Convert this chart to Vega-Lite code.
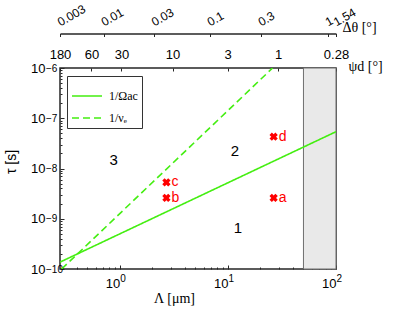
{
  "$schema": "https://vega.github.io/schema/vega-lite/v6.json",
  "width": 276,
  "height": 201,
  "autosize": "none",
  "padding": {"left": 60, "top": 68, "right": 69, "bottom": 42},
  "background": "white",
  "config": {
    "font": "Liberation Sans",
    "view": {"stroke": "#262626", "strokeWidth": 1.5},
    "axis": {
      "labelFont": "Liberation Sans",
      "labelFontSize": 13,
      "labelColor": "#000",
      "domainColor": "#262626",
      "tickColor": "#262626",
      "grid": false,
      "labelFlush": false,
      "labelOverlap": false,
      "labelBound": false,
      "titleFontWeight": "normal",
      "titleColor": "#000",
      "zindex": 1
    }
  },
  "datasets": {
    "region": [{"lo": 50, "hi": 100}],
    "lines": [
      {"series": "1/Ωac", "L": 0.28, "tau": 1.37e-10},
      {"series": "1/Ωac", "L": 100, "tau": 5.4e-8},
      {"series": "1/νₑ", "L": 0.29, "tau": 1e-10},
      {"series": "1/νₑ", "L": 25.9, "tau": 1e-6}
    ],
    "pts": [
      {"id": "a", "L": 26.5, "tau": 2.6e-9},
      {"id": "b", "L": 2.7, "tau": 2.6e-9},
      {"id": "c", "L": 2.7, "tau": 5.3e-9},
      {"id": "d", "L": 26.5, "tau": 4.3e-8}
    ],
    "zones": [
      {"n": "1", "L": 12.4, "tau": 6.4e-10},
      {"n": "2", "L": 11.6, "tau": 2.28e-8},
      {"n": "3", "L": 0.88, "tau": 1.51e-8}
    ]
  },
  "resolve": {"axis": {"x": "independent", "y": "independent"}},
  "layer": [
    {
      "data": {"name": "region"},
      "mark": {"type": "rect", "fill": "#e9e9e9", "stroke": "#6e6e6e", "strokeWidth": 1},
      "encoding": {
        "x": {
          "field": "lo", "type": "quantitative",
          "scale": {"type": "log", "domain": [0.28, 100], "nice": false},
          "axis": {
            "orient": "bottom", "values": [1, 10, 100], "labelExpr": "'10'",
            "ticks": false, "domain": false, "labelAlign": "right", "labelDx": 6,
            "labelBaseline": "middle", "labelPadding": 14.8,
            "title": "Λ [μm]", "titleFont": "Liberation Serif", "titleFontSize": 14,
            "titleX": 114, "titleY": 33, "titleAlign": "center", "titleBaseline": "alphabetic"
          }
        },
        "x2": {"field": "hi"},
        "y": {"datum": 1e-6, "type": "quantitative", "scale": {"type": "log", "domain": [1e-10, 1e-6], "nice": false}, "axis": null},
        "y2": {"datum": 1e-10}
      }
    },
    {
      "data": {"name": "lines"},
      "mark": {"type": "line", "color": "#44ee11", "strokeWidth": 1.6, "clip": true},
      "encoding": {
        "x": {
          "field": "L", "type": "quantitative",
          "axis": {
            "orient": "bottom", "values": [1, 10, 100],
            "labelExpr": "datum.value < 5 ? '0' : datum.value < 50 ? '1' : '2'",
            "tickSize": -4, "domain": false, "labelAlign": "left", "labelDx": 7,
            "labelFontSize": 10, "labelBaseline": "middle", "labelPadding": 13.3, "title": null
          }
        },
        "y": {
          "field": "tau", "type": "quantitative",
          "axis": {
            "orient": "left", "values": [1e-10, 1e-9, 1e-8, 1e-7, 1e-6], "labelExpr": "'10'",
            "ticks": false, "domain": false, "labelAlign": "right", "labelPadding": 15,
            "labelBaseline": "middle", "labelDy": 4.5,
            "title": "τ [s]", "titleFont": "Liberation Sans", "titleFontSize": 14,
            "titleX": -49, "titleY": 93.5, "titleAngle": -90, "titleAlign": "center", "titleBaseline": "middle"
          }
        },
        "strokeDash": {
          "field": "series", "type": "nominal",
          "scale": {"domain": ["1/Ωac", "1/νₑ"], "range": [[1, 0], [7, 4]]},
          "legend": {
            "orient": "none", "legendX": 7, "legendY": 8, "title": null,
            "fillColor": "white", "strokeColor": "#333", "padding": 4,
            "symbolType": "stroke", "symbolSize": 900, "symbolStrokeWidth": 1.6,
            "symbolStrokeColor": "#44ee11", "symbolOpacity": 1,
            "labelFont": "Liberation Serif", "labelFontSize": 12, "labelColor": "#000",
            "labelOffset": 6, "rowPadding": -10
          }
        }
      }
    },
    {
      "data": {"name": "pts"},
      "mark": {"type": "point", "shape": "cross", "angle": 45, "filled": true, "color": "#ff0000", "size": 70, "opacity": 1},
      "encoding": {
        "x": {
          "field": "L", "type": "quantitative",
          "axis": {
            "orient": "bottom",
            "values": [0.3, 0.4, 0.5, 0.6, 0.7, 0.8, 0.9, 2, 3, 4, 5, 6, 7, 8, 9, 20, 30, 40, 50, 60, 70, 80, 90],
            "labels": false, "tickSize": -2, "domain": false, "title": null
          }
        },
        "y": {
          "field": "tau", "type": "quantitative",
          "axis": {
            "orient": "left", "values": [1e-10, 1e-9, 1e-8, 1e-7, 1e-6],
            "labelExpr": "datum.value < 5e-10 ? '−10' : datum.value < 5e-9 ? '−9' : datum.value < 5e-8 ? '−8' : datum.value < 5e-7 ? '−7' : '−6'",
            "tickSize": -4, "domain": false, "labelAlign": "left", "labelPadding": 18.5,
            "labelFontSize": 10, "labelBaseline": "middle", "labelDy": -2, "title": null
          }
        }
      }
    },
    {
      "data": {"name": "pts"},
      "mark": {"type": "text", "align": "left", "baseline": "middle", "dx": 5, "color": "#ff0000", "fontSize": 14, "font": "Liberation Sans"},
      "encoding": {
        "x": {
          "field": "L", "type": "quantitative",
          "axis": {
            "orient": "top", "values": [0.28, 0.547, 1.037, 3.076, 9.94, 29.2, 100],
            "labelExpr": "datum.value < 0.3 ? '180' : datum.value < 0.6 ? '60' : datum.value < 2 ? '30' : datum.value < 5 ? '10' : datum.value < 15 ? '3' : datum.value < 50 ? '1' : '0.28'",
            "tickSize": -3, "domain": false, "labelBaseline": "alphabetic", "labelPadding": 13,
            "title": "ψd [°]", "titleFont": "Liberation Serif", "titleFontSize": 14,
            "titleX": 288, "titleY": -2, "titleAlign": "left", "titleBaseline": "middle"
          }
        },
        "y": {
          "field": "tau", "type": "quantitative",
          "axis": {
            "orient": "left",
            "values": [2e-10, 3e-10, 4e-10, 5e-10, 6e-10, 7e-10, 8e-10, 9e-10, 2e-9, 3e-9, 4e-9, 5e-9, 6e-9, 7e-9, 8e-9, 9e-9, 2e-8, 3e-8, 4e-8, 5e-8, 6e-8, 7e-8, 8e-8, 9e-8, 2e-7, 3e-7, 4e-7, 5e-7, 6e-7, 7e-7, 8e-7, 9e-7],
            "labels": false, "tickSize": -2, "domain": false, "title": null
          }
        },
        "text": {"field": "id", "type": "nominal"}
      }
    },
    {
      "data": {"name": "zones"},
      "mark": {"type": "text", "align": "center", "baseline": "middle", "color": "#000", "fontSize": 15, "font": "Liberation Sans"},
      "encoding": {
        "x": {
          "field": "L", "type": "quantitative",
          "axis": {
            "orient": "top", "offset": 34.5, "values": [0.28, 0.711, 2.078, 6.81, 20.1, 83.8, 100],
            "labelExpr": "datum.value < 0.4 ? '0.003' : datum.value < 1 ? '0.01' : datum.value < 4 ? '0.03' : datum.value < 10 ? '0.1' : datum.value < 50 ? '0.3' : datum.value < 95 ? '1' : '1.54'",
            "tickSize": -3, "domain": true, "domainWidth": 1.3, "labelAngle": -30, "labelAlign": "left",
            "labelFontSize": 12, "labelBaseline": "alphabetic", "labelPadding": 10.5, "labelDx": -6,
            "title": "Δθ [°]", "titleFont": "Liberation Serif", "titleFontSize": 14,
            "titleX": 282, "titleY": -6, "titleAlign": "left", "titleBaseline": "middle"
          }
        },
        "y": {"field": "tau", "type": "quantitative", "axis": null},
        "text": {"field": "n", "type": "nominal"}
      }
    }
  ]
}
